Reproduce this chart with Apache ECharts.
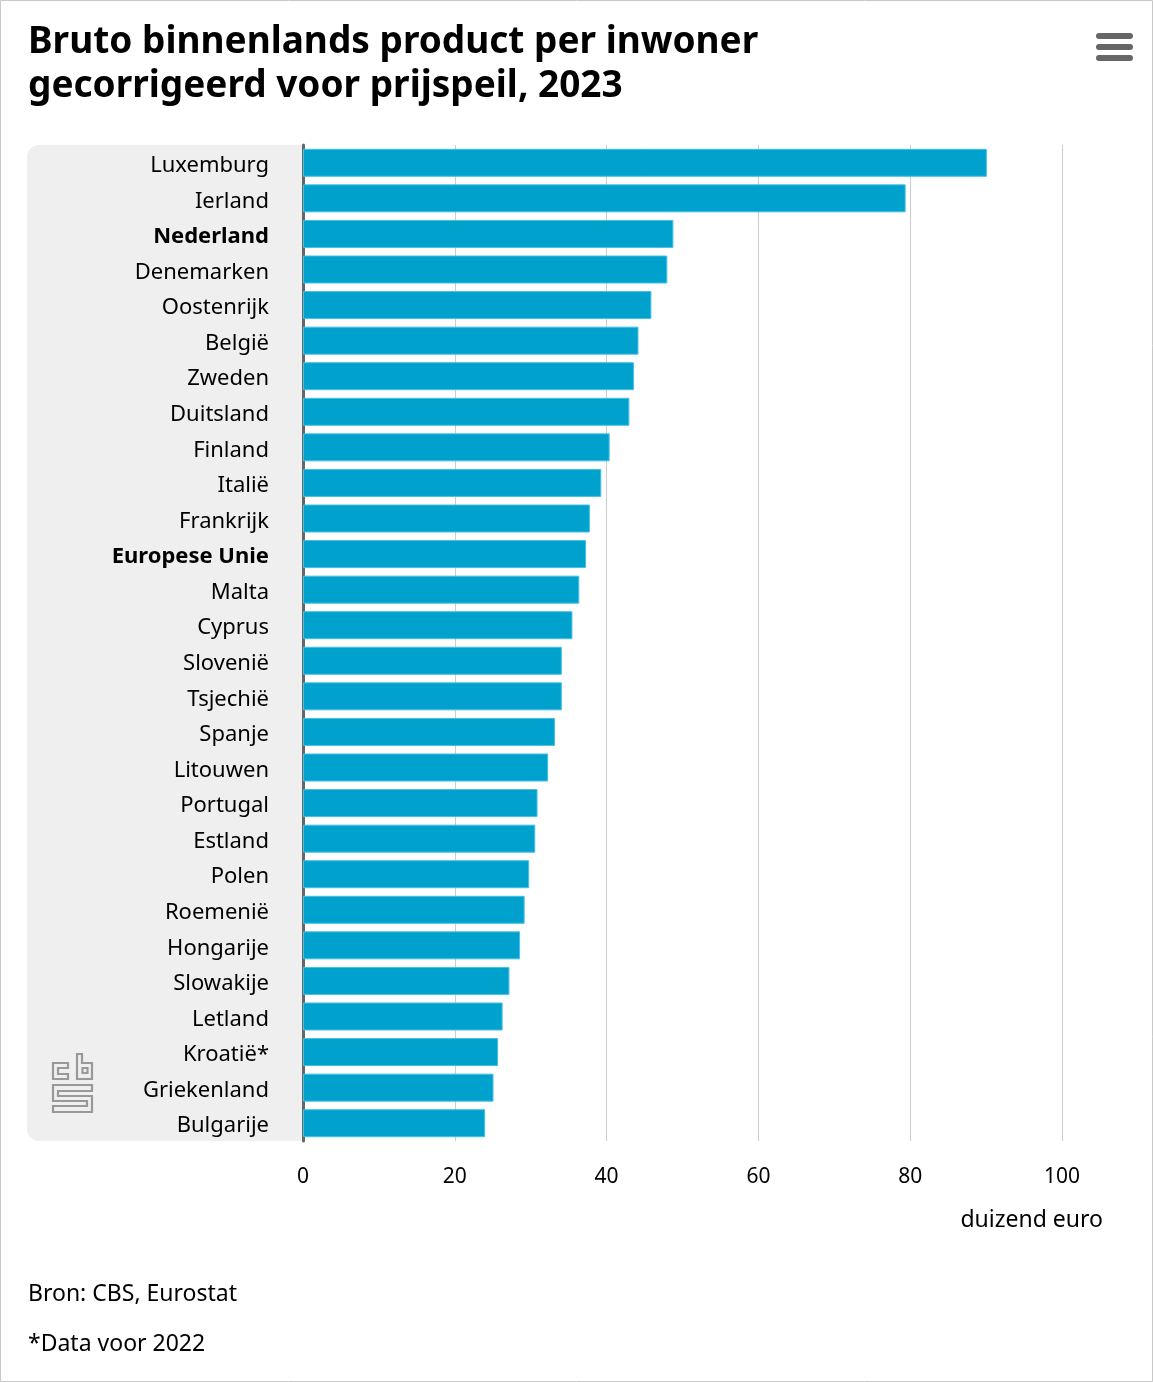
<!DOCTYPE html>
<html>
<head>
<meta charset="utf-8">
<script src="https://cdn.jsdelivr.net/npm/echarts@6/dist/echarts.min.js"></script>
<style>
html,body{margin:0;padding:0;background:#fff;}
#chart{width:1153px;height:1382px;}
</style>
</head>
<body>
<div id="chart"></div>
<script>
const categories = ['Luxemburg','Ierland','Nederland','Denemarken','Oostenrijk','België','Zweden','Duitsland','Finland','Italië','Frankrijk','Europese Unie','Malta','Cyprus','Slovenië','Tsjechië','Spanje','Litouwen','Portugal','Estland','Polen','Roemenië','Hongarije','Slowakije','Letland','Kroatië*','Griekenland','Bulgarije'];
const values = [90.1,79.4,48.8,48.0,45.9,44.2,43.6,43.0,40.4,39.3,37.8,37.3,36.4,35.5,34.1,34.1,33.2,32.3,30.9,30.6,29.8,29.2,28.6,27.2,26.3,25.7,25.1,24.0];
const boldCategories = ['Nederland','Europese Unie'];
const xTicks = [0,20,40,60,80,100];

const FONT = "'Noto Sans', sans-serif";

const chart = echarts.init(document.getElementById('chart'));
const g = (x,y)=>[x,y];
chart.setOption({
  animation:false,
  backgroundColor:'#fff',
  title:[
    {text:'Bruto binnenlands product per inwoner\ngecorrigeerd voor prijspeil, 2023',left:28,top:20,padding:0,
     textStyle:{fontFamily:FONT,fontSize:37,fontWeight:'bold',color:'#000',lineHeight:44}},
    {text:'duizend euro',right:50,top:1209,padding:0,textStyle:{fontFamily:FONT,fontSize:23,fontWeight:'normal',color:'#000'}},
    {text:'Bron: CBS, Eurostat',left:28,top:1283,padding:0,textStyle:{fontFamily:FONT,fontSize:23,fontWeight:'normal',color:'#000'}},
    {text:'*Data voor 2022',left:28,top:1333,padding:0,textStyle:{fontFamily:FONT,fontSize:23,fontWeight:'normal',color:'#000'}}
  ],
  grid:{left:303,right:91,top:145,height:996,containLabel:false},
  xAxis:{type:'value',min:xTicks[0],max:xTicks[xTicks.length-1],interval:20,
    axisLine:{show:false},axisTick:{show:false},
    splitLine:{show:true,lineStyle:{color:'#cccccc',width:1}},
    axisLabel:{color:'#000',fontFamily:FONT,fontSize:21,margin:26}},
  yAxis:{type:'category',data:categories,inverse:true,
    axisLine:{show:true,lineStyle:{color:'#666',width:3}},
    axisTick:{show:false},
    axisLabel:{margin:34,fontFamily:FONT,fontSize:22,color:'#000',padding:[6,0,0,0],
      formatter:(v)=>boldCategories.includes(v)?'{b|'+v+'}':v,
      rich:{b:{fontFamily:FONT,fontSize:22,fontWeight:'bold',color:'#000'}}}},
  series:[{type:'bar',data:values,barWidth:28,
    itemStyle:{color:'#00a1cd',borderColor:'#45c0e3',borderWidth:1},z:3}],
  graphic:[
    {type:'rect',z:-10,shape:{x:27,y:145,width:275,height:996,r:[12,0,0,12]},style:{fill:'#efefef'}},
    {type:'rect',z:100,shape:{x:0.5,y:0.5,width:1152,height:1381},style:{fill:'none',stroke:'#c8c8c8',lineWidth:1}},
    {type:'rect',z:100,shape:{x:1096,y:33,width:37,height:6,r:3},style:{fill:'#666'}},
    {type:'rect',z:100,shape:{x:1096,y:44,width:37,height:6,r:3},style:{fill:'#666'}},
    {type:'rect',z:100,shape:{x:1096,y:55,width:37,height:6,r:3},style:{fill:'#666'}},
    {type:'polygon',z:100,shape:{points:[g(68,1063),g(53,1063),g(53,1079),g(68,1079),g(68,1074),g(58,1074),g(58,1068),g(68,1068)]},style:{fill:'none',stroke:'#999',lineWidth:2.2}},
    {type:'polygon',z:100,shape:{points:[g(77,1054),g(82,1054),g(82,1063),g(92,1063),g(92,1079),g(77,1079)]},style:{fill:'none',stroke:'#999',lineWidth:2.2}},
    {type:'rect',z:100,shape:{x:82.5,y:1068,width:5,height:5},style:{fill:'none',stroke:'#999',lineWidth:2.2}},
    {type:'polygon',z:100,shape:{points:[g(53,1085),g(92,1085),g(92,1091),g(58,1091),g(58,1096),g(92,1096),g(92,1112),g(53,1112),g(53,1106),g(87,1106),g(87,1101),g(53,1101)]},style:{fill:'none',stroke:'#999',lineWidth:2.2}}
  ]
});
</script>
</body>
</html>
